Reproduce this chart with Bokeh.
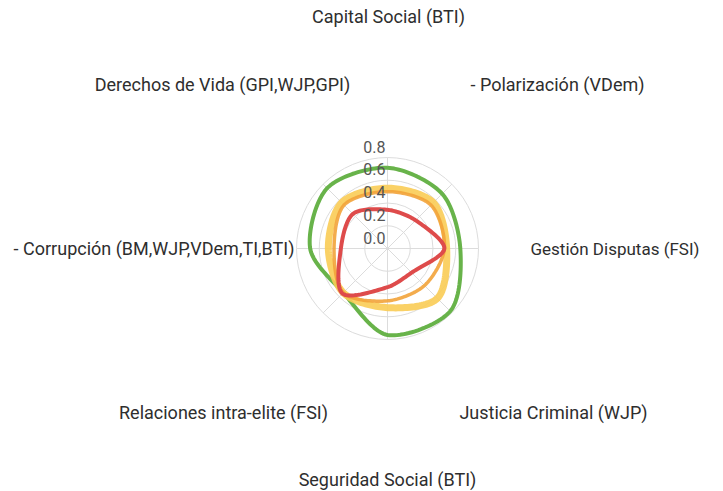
import numpy as np
from bokeh.plotting import figure
from bokeh.models import Range1d
from bokeh.core.properties import value
from bokeh.embed import file_html
from bokeh.resources import INLINE

# ---- data ----
categories = ["Capital Social (BTI)", "- Polarización (VDem)", "Gestión Disputas (FSI)",
              "Justicia Criminal (WJP)", "Seguridad Social (BTI)", "Relaciones intra-elite (FSI)",
              "- Corrupción (BM,WJP,VDem,TI,BTI)", "Derechos de Vida (GPI,WJP,GPI)"]
green = [0.71, 0.68, 0.64, 0.78, 0.76, 0.55, 0.68, 0.75]
yellow = [0.53, 0.57, 0.52, 0.62, 0.52, 0.55, 0.52, 0.57]
orange = [0.50, 0.54, 0.50, 0.46, 0.46, 0.55, 0.47, 0.54]
red = [0.34, 0.35, 0.50, 0.30, 0.34, 0.56, 0.41, 0.43]
tick_values = [0.0, 0.2, 0.4, 0.6, 0.8]
tick_labels = ["0.0", "0.2", "0.4", "0.6", "0.8"]

# ---- layout ----
W, H = 718, 490
PX = 113.75            # pixels per unit
CX, CY = 387, 248      # centre in figure px
label_pos = [(1, -232, "center"), (170, -164, "center"), (143, 0, "left"),
             (166, 164, "center"), (0, 231, "center"), (-164, 164, "center"),
             (-93, 0, "right"), (-165, -164, "center")]
label_size = ["18px", "18px", "17px", "18px", "18px", "18px", "18px", "18px"]

p = figure(width=W, height=H, output_backend="svg", toolbar_location=None,
           x_range=Range1d(-CX / PX, (W - CX) / PX),
           y_range=Range1d(-(H - CY) / PX, CY / PX),
           min_border=0)
p.axis.visible = False
p.grid.visible = False
p.outline_line_color = None

n = len(categories)
ang = np.pi / 2 - np.arange(n) * 2 * np.pi / n
rmax = tick_values[-1]

# grid circles and spokes
for t in tick_values[1:]:
    p.circle(x=[0], y=[0], radius=t, fill_color=None, line_color="#dcdcdc", line_width=1)
p.segment(x0=[0] * n, y0=[0] * n, x1=list(rmax * np.cos(ang)), y1=list(rmax * np.sin(ang)),
          line_color="#dcdcdc", line_width=1)


def smooth(vals, tension=0.3, steps=24):
    v = np.array(vals)
    pts = np.column_stack([v * np.cos(ang), v * np.sin(ang)])
    m = len(pts)
    cpp, cpn = [], []
    for i in range(m):
        pr, cu, nx = pts[i - 1], pts[i], pts[(i + 1) % m]
        d01 = np.hypot(*(cu - pr)); d12 = np.hypot(*(nx - cu))
        s01 = d01 / (d01 + d12); s12 = d12 / (d01 + d12)
        cpp.append(cu - tension * s01 * (nx - pr))
        cpn.append(cu + tension * s12 * (nx - pr))
    xs, ys = [], []
    tt = np.linspace(0, 1, steps, endpoint=False)
    for i in range(m):
        p0, p1, p2, p3 = pts[i], cpn[i], cpp[(i + 1) % m], pts[(i + 1) % m]
        b = ((1 - tt) ** 3)[:, None] * p0 + (3 * (1 - tt) ** 2 * tt)[:, None] * p1 \
            + (3 * (1 - tt) * tt ** 2)[:, None] * p2 + (tt ** 3)[:, None] * p3
        xs.extend(b[:, 0]); ys.extend(b[:, 1])
    xs.append(xs[0]); ys.append(ys[0])
    return xs, ys


series = [(green, "#68b34a", 4, 1.0), (yellow, "#f9cc55", 7, 0.9),
          (orange, "#f2a33a", 3.5, 0.9), (red, "#de4b4b", 4, 1.0)]
for vals, col, lw, a in series:
    xs, ys = smooth(vals)
    p.line(xs, ys, line_color=col, line_width=lw, line_alpha=a, line_join="round")

# tick labels
p.text(x=[-2 / PX] * len(tick_values), y=[t + 11 / PX for t in tick_values], text=tick_labels,
       text_align="right", text_baseline="middle", text_font=value("Roboto"),
       text_font_size="16px", text_color="#555555")

# category labels
for lab, (dx, dy, al), fs in zip(categories, label_pos, label_size):
    p.text(x=[dx / PX], y=[-dy / PX], text=[lab], text_align=al, text_baseline="middle",
           text_font=value("Roboto"), text_font_size=fs, text_color="#2e2e2e")

open("out.html", "w").write(file_html(p, INLINE))
